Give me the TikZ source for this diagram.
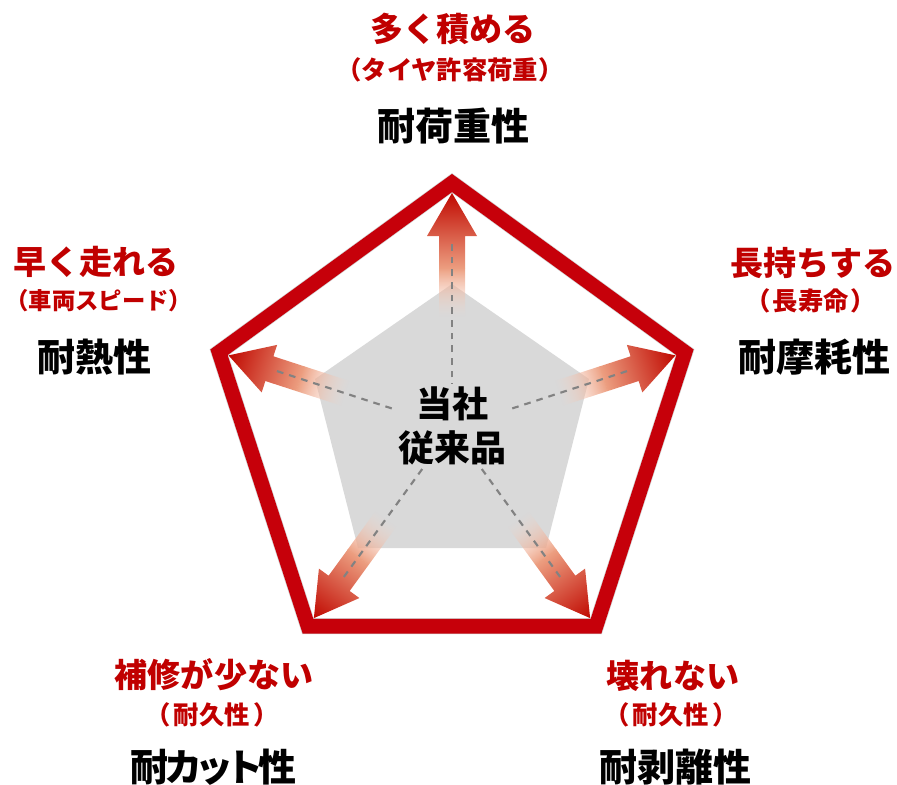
\documentclass[tikz,border=0pt]{standalone}
\usepackage{fontspec}
\newfontfamily\jp{Noto Sans CJK JP}
\usetikzlibrary{fadings}
\definecolor{tred}{RGB}{192,0,0}
\definecolor{pred}{RGB}{198,0,10}
\definecolor{pgray}{RGB}{217,217,217}
\definecolor{dgray}{RGB}{130,130,130}
\definecolor{astart}{RGB}{248,215,200}
\definecolor{aone}{RGB}{236,158,128}
\definecolor{amid}{RGB}{220,92,62}
\definecolor{aend}{RGB}{192,8,0}
\tikzfading[name=arrowfade, left color=transparent!100, right color=transparent!0]
\newcommand\radarrow[1]{%
  \begin{scope}[transform canvas={shift={(452,428)},rotate=#1}]
    \shade[left color=astart, right color=aone, path fading=arrowfade]
      (112,-13) -- (160,-13) -- (160,13) -- (112,13) -- cycle;
    \shade[left color=aone, middle color=amid, right color=aend]
      (159.6,-13) -- (192,-13) -- (192,-25) -- (235,0) -- (192,25) -- (192,13) -- (159.6,13) -- cycle;
  \end{scope}}
\tikzset{
  lmain/.style={text=tred, font=\jp\bfseries\fontsize{24.8}{28}\selectfont, inner sep=0pt},
  lsub/.style={text=tred, font=\jp\bfseries\fontsize{19}{23}\selectfont, inner sep=0pt},
  lkey/.style={text=black, font=\jp\bfseries\fontsize{28.5}{33}\selectfont, inner sep=0pt},
  dashline/.style={draw=dgray, line width=1.6pt, dash pattern=on 5pt off 4.5pt},
  redpent/.style={draw=pred, line width=11pt, line join=miter},
}
\begin{document}
\begin{tikzpicture}[x=0.75pt, y=-0.75pt]
\useasboundingbox (0,0) rectangle (897,785);
% coordinates
\coordinate (c) at (452,428);
\coordinate (r1) at (452,183);
\coordinate (r2) at (685,352.3);
\coordinate (r3) at (596,626.2);
\coordinate (r4) at (308,626.2);
\coordinate (r5) at (219,352.3);
\coordinate (g1) at (452,284);
\coordinate (g2) at (589,379);
\coordinate (g3) at (546,548);
\coordinate (g4) at (358,548);
\coordinate (g5) at (315,379);
\coordinate (d1) at (452,243);
\coordinate (d2) at (628,370.8);
\coordinate (d3) at (560.7,577.7);
\coordinate (d4) at (343.3,577.7);
\coordinate (d5) at (276,370.8);
% gray pentagon
\fill[pgray] (g1) -- (g2) -- (g3) -- (g4) -- (g5) -- cycle;
% arrows
\radarrow{90}
\radarrow{18}
\radarrow{162}
\radarrow{234}
\radarrow{306}
% dashed lines
\foreach \d in {d1,d2,d3,d4,d5} \draw[dashline] (c) -- (\d);
% shadow + red pentagon
\draw[black, opacity=0.18, line width=12pt, line join=miter, shift={(3,4)}] (r1) -- (r2) -- (r3) -- (r4) -- (r5) -- cycle;
\draw[redpent] (r1) -- (r2) -- (r3) -- (r4) -- (r5) -- cycle;
% center text
\node[fill=pgray, inner sep=2pt, align=center, font=\jp\bfseries\fontsize{27}{33}\selectfont] (ctr) at (452,426) {当社\\従来品};
% labels top
\node[lmain] (t1) at (453,29) {多く積める};
\node[lsub] (t2) at (450,70) {（タイヤ許容荷重）};
\node[lkey] (t3) at (453,126) {耐荷重性};
% left
\node[lmain] (l1) at (96,262) {早く走れる};
\node[lsub, font=\jp\bfseries\fontsize{17.5}{23}\selectfont] (l2) at (99,301) {（車両スピード）};
\node[lkey] (l3) at (94,357) {耐熱性};
% right
\node[lmain] (rr1) at (813,263) {長持ちする};
\node[lsub] (rr2) at (811,301) {（\kern1.5pt 長寿命\kern1.5pt）};
\node[lkey] (rr3) at (814,357) {耐摩耗性};
% bottom left
\node[lmain] (bl1) at (214,675) {補修が少ない};
\node[lsub] (bl2) at (212,715) {（\kern2.5pt 耐久性\kern2.5pt）};
\node[lkey] (bl3) at (213,767) {耐\kern-3pt カ\kern-5pt ッ\kern-6pt ト\kern-4pt 性};
% bottom right
\node[lmain] (br1) at (673,676) {壊れない};
\node[lsub] (br2) at (671,715) {（\kern2.5pt 耐久性\kern2.5pt）};
\node[lkey] (br3) at (675,767) {耐剥離性};
\end{tikzpicture}
\end{document}
